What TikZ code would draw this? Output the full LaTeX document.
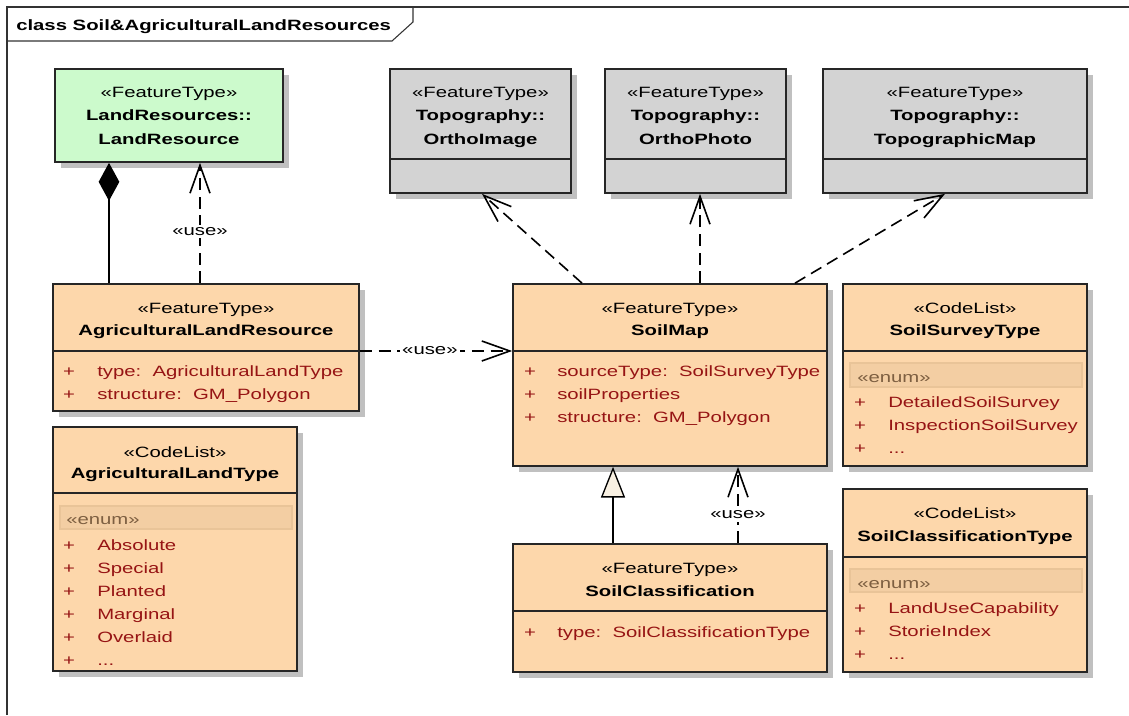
\documentclass[tikz,border=0pt]{standalone}
\usepackage{fontspec}
\setmainfont[FakeStretch=1.36]{Liberation Sans}
\usetikzlibrary{arrows.meta,fit}

\definecolor{peach}{RGB}{253,215,171}
\definecolor{mint}{RGB}{204,250,204}
\definecolor{greybox}{RGB}{211,211,211}
\definecolor{shadowgrey}{RGB}{192,192,192}
\definecolor{attrred}{RGB}{150,20,20}
\definecolor{enumfill}{RGB}{243,206,163}
\definecolor{enumedge}{RGB}{233,196,152}
\definecolor{enumtext}{RGB}{125,95,65}
\definecolor{genfill}{RGB}{248,240,226}

\newcommand\moreitems{...}
\newcommand\umlfont{\fontsize{11.2pt}{13pt}\selectfont}

\tikzset{
  every node/.style={font=\umlfont, inner sep=0pt},
  classbox/.style={draw=black!85, line width=1.25pt, inner sep=0pt},
  rule/.style={draw=black!85, line width=1.25pt},
  stereo/.style={anchor=base},
  cname/.style={anchor=base, font=\umlfont\bfseries},
  plus/.style={anchor=base, text=attrred},
  attr/.style={anchor=base west, text=attrred},
  enumband/.style={fill=enumfill, draw=enumedge, line width=0.8pt},
  enumlbl/.style={anchor=base west, text=enumtext},
  conn/.style={line width=1.2pt, black},
  dep/.style={conn, dash pattern=on 9pt off 5pt,
    -{Straight Barb[length=21pt,width=15pt,line width=1.2pt]}},
  lbl/.style={fill=white, inner sep=2pt},
  frameline/.style={draw=black!80, line width=0.8pt}
}

% shadowed class rectangle: name, x1, y1, x2, y2, fill colour
\newcommand\classrect[6]{%
  \fill[shadowgrey] (#2+6,#3+6) rectangle (#4+6,#5+6);
  \node[classbox, fill=#6, fit={(#2,#3)(#4,#5)}] (#1) {};
}
% compartment divider: x1, x2, y
\newcommand\divider[3]{\draw[rule] (#1,#3) -- (#2,#3);}

\begin{document}
\begin{tikzpicture}[x=0.75pt, y=-0.75pt]
\useasboundingbox (0,0) rectangle (1129,715);

% diagram frame with its name tab
\draw[frameline] (7,715) -- (7,7) -- (1129,7);
\draw[frameline] (7,41) -- (392,41) -- (413,22) -- (413,7);
\node[anchor=base west, font=\umlfont\bfseries] (frametitle) at (16,30.5) {class Soil\&AgriculturalLandResources};

% ---------- LandResources::LandResource ----------
\classrect{lr}{55}{69}{283}{162}{mint}
\node[stereo] (lr-s) at (169,97) {«FeatureType»};
\node[cname] (lr-n1) at (169,120.5) {LandResources::};
\node[cname] (lr-n2) at (169,144) {LandResource};

% ---------- Topography classes ----------
\classrect{oi}{390}{69}{571}{193}{greybox}
\divider{390}{571}{159}
\node[stereo] (oi-s) at (480.5,97) {«FeatureType»};
\node[cname] (oi-n1) at (480.5,120.5) {Topography::};
\node[cname] (oi-n2) at (480.5,144) {OrthoImage};

\classrect{op}{605}{69}{786}{193}{greybox}
\divider{605}{786}{159}
\node[stereo] (op-s) at (695.5,97) {«FeatureType»};
\node[cname] (op-n1) at (695.5,120.5) {Topography::};
\node[cname] (op-n2) at (695.5,144) {OrthoPhoto};

\classrect{tm}{823}{69}{1087}{193}{greybox}
\divider{823}{1087}{159}
\node[stereo] (tm-s) at (955,97) {«FeatureType»};
\node[cname] (tm-n1) at (955,120.5) {Topography::};
\node[cname] (tm-n2) at (955,144) {TopographicMap};

% ---------- AgriculturalLandResource ----------
\classrect{alr}{53}{284}{359}{411}{peach}
\divider{53}{359}{351}
\node[stereo] (alr-s) at (206,313.5) {«FeatureType»};
\node[cname] (alr-n) at (206,335) {AgriculturalLandResource};
\node[plus] (alr-p1) at (69,376) {+};
\node[attr] (alr-a1) at (97,376) {type:~~AgriculturalLandType};
\node[plus] (alr-p2) at (69,399) {+};
\node[attr] (alr-a2) at (97,399) {structure:~~GM\_Polygon};

% ---------- AgriculturalLandType ----------
\classrect{alt}{53}{427}{297}{671}{peach}
\divider{53}{297}{493}
\node[stereo] (alt-s) at (175,457) {«CodeList»};
\node[cname] (alt-n) at (175,478.5) {AgriculturalLandType};
\draw[enumband] (60,506) rectangle (292,529);
\node[enumlbl] (alt-e) at (66,524.5) {«enum»};
\foreach \y/\t [count=\i] in {550/Absolute, 573/Special, 596/Planted, 619/Marginal, 642/Overlaid, 665/\moreitems}{
  \node[plus] (alt-p\i) at (69,\y) {+};
  \node[attr] (alt-v\i) at (97,\y) {\t};
}

% ---------- SoilMap ----------
\classrect{sm}{513}{284}{827}{466}{peach}
\divider{513}{827}{351}
\node[stereo] (sm-s) at (670,313.5) {«FeatureType»};
\node[cname] (sm-n) at (670,335.5) {SoilMap};
\node[plus] (sm-p1) at (530,376) {+};
\node[attr] (sm-a1) at (557,376) {sourceType:~~SoilSurveyType};
\node[plus] (sm-p2) at (530,399) {+};
\node[attr] (sm-a2) at (557,399) {soilProperties};
\node[plus] (sm-p3) at (530,422) {+};
\node[attr] (sm-a3) at (557,422) {structure:~~GM\_Polygon};

% ---------- SoilSurveyType ----------
\classrect{sst}{843}{284}{1087}{466}{peach}
\divider{843}{1087}{351}
\node[stereo] (sst-s) at (965,313.5) {«CodeList»};
\node[cname] (sst-n) at (965,335.5) {SoilSurveyType};
\draw[enumband] (850,363) rectangle (1082,387);
\node[enumlbl] (sst-e) at (857,382.5) {«enum»};
\foreach \y/\t [count=\i] in {407/DetailedSoilSurvey, 430/InspectionSoilSurvey, 453/\moreitems}{
  \node[plus] (sst-p\i) at (860,\y) {+};
  \node[attr] (sst-v\i) at (888,\y) {\t};
}

% ---------- SoilClassification ----------
\classrect{sc}{513}{544}{827}{672}{peach}
\divider{513}{827}{611}
\node[stereo] (sc-s) at (670,573) {«FeatureType»};
\node[cname] (sc-n) at (670,596) {SoilClassification};
\node[plus] (sc-p1) at (530,637) {+};
\node[attr] (sc-a1) at (557,637) {type:~~SoilClassificationType};

% ---------- SoilClassificationType ----------
\classrect{sct}{843}{489}{1087}{672}{peach}
\divider{843}{1087}{557}
\node[stereo] (sct-s) at (965,518) {«CodeList»};
\node[cname] (sct-n) at (965,541.5) {SoilClassificationType};
\draw[enumband] (850,569) rectangle (1082,592);
\node[enumlbl] (sct-e) at (857,588) {«enum»};
\foreach \y/\t [count=\i] in {613/LandUseCapability, 636/StorieIndex, 659/\moreitems}{
  \node[plus] (sct-p\i) at (860,\y) {+};
  \node[attr] (sct-v\i) at (888,\y) {\t};
}

% ---------- connector anchor columns / rows ----------
\coordinate (xcomp) at (109,0);
\coordinate (xuse1) at (200,0);
\coordinate (yuse2) at (0,351);
\coordinate (xoi1) at (582,0);
\coordinate (xoi2) at (482,0);
\coordinate (xop) at (700,0);
\coordinate (xtm1) at (795,0);
\coordinate (xtm2) at (945,0);
\coordinate (xgen) at (613,0);
\coordinate (xuse3) at (738,0);

% composition AgriculturalLandResource -> LandResource
\draw[conn, -{Diamond[length=28.5pt,width=15.5pt,line width=1pt]}]
  (alr.north -| xcomp) -- (lr.south -| xcomp);
% dependencies
\draw[dep] (alr.north -| xuse1) -- node[lbl, pos=0.43] (use1) {«use»} (lr.south -| xuse1);
\draw[dep] (alr.east |- yuse2) -- node[lbl, pos=0.46] (use2) {«use»} (sm.west |- yuse2);
\draw[dep] (sm.north -| xoi1) -- (oi.south -| xoi2);
\draw[dep] (sm.north -| xop) -- (op.south -| xop);
\draw[dep] (sm.north -| xtm1) -- (tm.south -| xtm2);
\draw[dep] (sc.north -| xuse3) -- node[lbl, pos=0.37] (use3) {«use»} (sm.south -| xuse3);
% generalisation SoilClassification -> SoilMap
\draw[conn, -{Triangle[length=23pt,width=18pt,fill=genfill,line width=1pt]}]
  (sc.north -| xgen) -- (sm.south -| xgen);
\end{tikzpicture}
\end{document}
